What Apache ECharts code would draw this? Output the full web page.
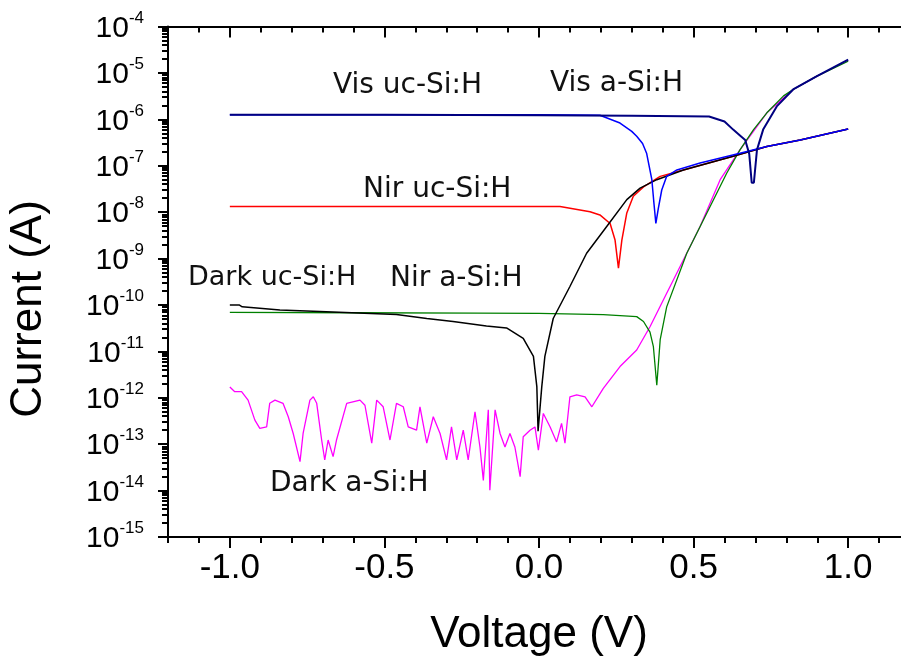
<!DOCTYPE html>
<html>
<head>
<meta charset="utf-8">
<script src="https://cdn.jsdelivr.net/npm/echarts@6/dist/echarts.min.js"></script>
<style>
  html, body { margin: 0; padding: 0; background: #fff; overflow: hidden; }
  /* plot runs past the right edge of the window, like the cropped original */
  #chart { width: 910px; height: 662px; }
</style>
</head>
<body>
<div id="chart"></div>
<script>
// ticks
var xMajorTicks = [-1.0, -0.5, 0.0, 0.5, 1.0];
var xMinorTicks = [-1.2, -1.1, -0.9, -0.8, -0.7, -0.6, -0.4, -0.3, -0.2, -0.1,
                   0.1, 0.2, 0.3, 0.4, 0.6, 0.7, 0.8, 0.9, 1.1, 1.2];
var yDecades = [1e-15, 1e-14, 1e-13, 1e-12, 1e-11, 1e-10, 1e-9, 1e-8, 1e-7, 1e-6, 1e-5, 1e-4];
// minor ticks of the log axis, given as exponents (drawn on a plain helper axis)
var yMinorExp = [];
for (var d = -15; d < -4; d++) {
  for (var k = 2; k <= 9; k++) yMinorExp.push(d + Math.log10(k));
}

// Vis uc-Si:H (blue)
var visUcV = [-1.0, -0.5, 0.0, 0.197, 0.262, 0.30, 0.316, 0.335, 0.348, 0.365, 0.372, 0.378, 0.386, 0.397, 0.413, 0.446, 0.521, 0.650, 0.737, 0.845, 1.0];
var visUcI = [1.25e-6, 1.25e-6, 1.25e-6, 1.22e-6, 8.3e-7, 5.5e-7, 4.3e-7, 3.0e-7, 1.86e-7, 5.0e-8, 1.5e-8, 5.7e-9, 1.2e-8, 3.0e-8, 5.9e-8, 8.1e-8, 1.15e-7, 1.86e-7, 2.6e-7, 3.6e-7, 6.2e-7];

// Vis a-Si:H (navy)
var visAV = [-1.0, -0.5, 0.0, 0.3, 0.55, 0.60, 0.628, 0.650, 0.667, 0.680, 0.688, 0.695, 0.705, 0.725, 0.769, 0.822, 0.899, 1.0];
var visAI = [1.25e-6, 1.25e-6, 1.22e-6, 1.2e-6, 1.15e-6, 9.0e-7, 6.0e-7, 4.5e-7, 3.6e-7, 1.8e-7, 4.3e-8, 4.3e-8, 2.2e-7, 6.0e-7, 1.9e-6, 4.4e-6, 8.5e-6, 1.94e-5];

// Nir uc-Si:H (red)
var nirUcV = [-1.0, 0.068, 0.165, 0.197, 0.230, 0.246, 0.257, 0.268, 0.284, 0.305, 0.338, 0.392, 0.467, 0.628, 0.737, 0.845, 1.0];
var nirUcI = [1.32e-8, 1.32e-8, 1.02e-8, 8.7e-9, 5.7e-9, 2.5e-9, 6.2e-10, 2.5e-9, 9.6e-9, 2.2e-8, 3.5e-8, 5.9e-8, 8.1e-8, 1.6e-7, 2.6e-7, 3.6e-7, 6.2e-7];

// Dark uc-Si:H (black)
var darkUcV = [-1.0, -0.97, -0.96, -0.838, -0.709, -0.461, -0.363, -0.278, -0.170, -0.105, -0.051, -0.018, -0.007, -0.003, 0.001, 0.009, 0.019, 0.046, 0.100, 0.154, 0.219, 0.284, 0.327, 0.381, 0.467, 0.628, 0.737, 0.845, 1.0];
var darkUcI = [1.0e-10, 1.0e-10, 9.1e-11, 7.8e-11, 7.2e-11, 6.2e-11, 5.1e-11, 4.4e-11, 3.5e-11, 3.2e-11, 1.9e-11, 7.8e-12, 1.74e-12, 1.9e-13, 1.9e-13, 1.74e-12, 7.8e-12, 5.1e-11, 2.5e-10, 1.3e-9, 4.9e-9, 1.86e-8, 3.3e-8, 5.0e-8, 8.1e-8, 1.6e-7, 2.6e-7, 3.6e-7, 6.2e-7];

// Nir a-Si:H (green)
var nirAV = [-1.0, -0.6, -0.2, 0.0, 0.208, 0.316, 0.338, 0.359, 0.370, 0.381, 0.392, 0.413, 0.478, 0.543, 0.607, 0.650, 0.694, 0.737, 0.791, 0.822, 0.899, 1.0];
var nirAI = [6.9e-11, 6.8e-11, 6.7e-11, 6.6e-11, 6.2e-11, 5.6e-11, 4.4e-11, 2.6e-11, 1.26e-11, 1.86e-12, 1.78e-11, 9.1e-11, 1.3e-9, 9.6e-9, 6.9e-8, 2.2e-7, 6.0e-7, 1.38e-6, 3.2e-6, 4.4e-6, 8.5e-6, 1.78e-5];

// Dark a-Si:H (magenta)
var darkAV = [-1.000, -0.984, -0.962, -0.941, -0.919, -0.903, -0.881, -0.871, -0.854, -0.828, -0.811, -0.795, -0.773, -0.763, -0.741, -0.730, -0.719, -0.703, -0.693, -0.682, -0.666, -0.655, -0.622, -0.579, -0.563, -0.541, -0.525, -0.504, -0.482, -0.461, -0.439, -0.423, -0.396, -0.385, -0.363, -0.342, -0.320, -0.299, -0.283, -0.266, -0.245, -0.229, -0.207, -0.191, -0.180, -0.164, -0.159, -0.142, -0.126, -0.110, -0.094, -0.078, -0.061, -0.051, -0.029, -0.013, -0.002, 0.014, 0.036, 0.057, 0.073, 0.084, 0.100, 0.122, 0.149, 0.171, 0.208, 0.262, 0.316, 0.359, 0.413, 0.435, 0.521, 0.586, 0.650, 0.737, 0.822, 0.899, 1.0];
var darkAI = [1.7e-12, 1.35e-12, 1.35e-12, 8.9e-13, 3.3e-13, 2.2e-13, 2.35e-13, 7.6e-13, 8.9e-13, 7.6e-13, 3.9e-13, 1.7e-13, 4.2e-14, 1.7e-13, 8.9e-13, 1.05e-12, 7.6e-13, 1.23e-13, 4.6e-14, 1.23e-13, 5.4e-14, 1.23e-13, 7.6e-13, 8.9e-13, 6.9e-13, 1.05e-13, 8.9e-13, 6.4e-13, 1.23e-13, 7.6e-13, 6.4e-13, 2.35e-13, 2.0e-13, 6.4e-13, 1.05e-13, 3.9e-13, 1.7e-13, 4.6e-14, 2.35e-13, 4.6e-14, 2.0e-13, 4.6e-14, 5.0e-13, 8.7e-14, 1.66e-14, 5.5e-13, 1.02e-14, 5.5e-13, 1.7e-13, 8.7e-14, 1.7e-13, 8.7e-14, 2.0e-14, 1.45e-13, 2.0e-13, 2.35e-13, 7.4e-14, 4.6e-13, 2.35e-13, 1.12e-13, 2.8e-13, 1.05e-13, 1.05e-12, 1.15e-12, 1.05e-12, 6.4e-13, 1.6e-12, 4.7e-12, 1.07e-11, 3.4e-11, 1.78e-10, 3.5e-10, 4.9e-9, 5.0e-8, 2.2e-7, 1.38e-6, 4.4e-6, 8.5e-6, 1.85e-5];

function pairs(v, i) {
  var out = [];
  for (var n = 0; n < v.length; n++) out.push([v[n], i[n]]);
  return out;
}

var dom = document.getElementById('chart');
var myChart = echarts.init(dom);

var baseFont = 'Liberation Sans, Arial, sans-serif';
var noteFont = 'DejaVu Sans, Verdana, sans-serif';
var plotBox = { left: 168, right: 0, top: 26.5, bottom: 125, containLabel: false };

function curve(name, v, i, color, width) {
  return {
    name: name,
    type: 'line',
    xAxisIndex: 0,
    yAxisIndex: 0,
    data: pairs(v, i),
    showSymbol: false,
    lineStyle: { color: color, width: width },
    itemStyle: { color: color },
    animation: false
  };
}

function xAxisPart(pos, ticks, len, inside, labels) {
  return {
    type: 'value',
    gridIndex: 0,
    position: pos,
    min: -1.2,
    max: 1.2,
    splitLine: { show: false },
    axisLine: { show: true, onZero: false, lineStyle: { color: '#000', width: 2 } },
    axisTick: { show: true, inside: inside, length: len, customValues: ticks, lineStyle: { color: '#000', width: 2 } },
    axisLabel: labels ? {
      show: true, customValues: ticks, margin: 14,
      fontSize: 35, fontFamily: baseFont, color: '#000',
      formatter: function (v) { return v.toFixed(1); }
    } : { show: false }
  };
}

var xMain = xAxisPart('bottom', xMajorTicks, 11, false, true);
xMain.name = 'Voltage (V)';
xMain.nameLocation = 'middle';
xMain.nameGap = 76;
xMain.nameTextStyle = { fontSize: 44, fontFamily: baseFont, color: '#000' };

var yMain = {
  type: 'log',
  gridIndex: 0,
  logBase: 10,
  position: 'left',
  min: 1e-15,
  max: 1e-4,
  splitLine: { show: false },
  axisLine: { show: true, onZero: false, lineStyle: { color: '#000', width: 2 } },
  axisTick: { show: true, inside: false, length: 10, customValues: yDecades, lineStyle: { color: '#000', width: 2 } },
  axisLabel: {
    show: true, customValues: yDecades, margin: 24,
    formatter: function (v) {
      var e = Math.round(Math.log10(v));
      return '{b|10}{s|' + e + '}';
    },
    rich: {
      b: { fontSize: 30, fontFamily: baseFont, color: '#000', lineHeight: 34, verticalAlign: 'bottom' },
      s: { fontSize: 17, fontFamily: baseFont, color: '#000', lineHeight: 34, verticalAlign: 'top' }
    }
  }
};

// second grid on top of the first one, only to carry the minor ticks between decades.
// its x range starts at 0, so the onZero placement puts the tick axis on the left spine
var xHelper = {
  type: 'value', gridIndex: 1, min: 0, max: 1, show: false
};
var yMinor = {
  type: 'value',
  gridIndex: 1,
  position: 'left',
  min: -15,
  max: -4,
  splitLine: { show: false },
  axisLine: { show: false },
  axisTick: { show: true, inside: false, length: 6, customValues: yMinorExp, lineStyle: { color: '#000', width: 2 } },
  axisLabel: { show: false }
};

var option = {
  backgroundColor: '#fff',
  animation: false,
  grid: [plotBox, Object.assign({}, plotBox)],
  xAxis: [
    xMain,
    xAxisPart('bottom', xMinorTicks, 6, false, false),
    xAxisPart('top', xMajorTicks, 11, true, false),
    xAxisPart('top', xMinorTicks, 6, true, false),
    xHelper
  ],
  yAxis: [yMain, yMinor],
  series: [
    curve('Dark a-Si:H', darkAV, darkAI, '#ff00ff', 1.3),
    curve('Nir a-Si:H', nirAV, nirAI, '#008000', 1.3),
    curve('Nir uc-Si:H', nirUcV, nirUcI, '#ff0000', 1.5),
    curve('Dark uc-Si:H', darkUcV, darkUcI, '#000000', 1.5),
    curve('Vis uc-Si:H', visUcV, visUcI, '#0000ff', 1.5),
    curve('Vis a-Si:H', visAV, visAI, '#000080', 2)
  ],
  graphic: [
    { type: 'text', x: 29, y: 309, rotation: Math.PI / 2,
      style: { text: 'Current (A)', fontSize: 44, fontFamily: baseFont, fill: '#000', align: 'center', verticalAlign: 'middle' } },
    { type: 'text', x: 333, y: 86, style: { text: 'Vis uc-Si:H', fontSize: 28, fontFamily: noteFont, fill: '#111', align: 'left', verticalAlign: 'middle' } },
    { type: 'text', x: 550, y: 84, style: { text: 'Vis a-Si:H', fontSize: 28, fontFamily: noteFont, fill: '#111', align: 'left', verticalAlign: 'middle' } },
    { type: 'text', x: 363, y: 190, style: { text: 'Nir uc-Si:H', fontSize: 28, fontFamily: noteFont, fill: '#111', align: 'left', verticalAlign: 'middle' } },
    { type: 'text', x: 188, y: 278, style: { text: 'Dark uc-Si:H', fontSize: 27, fontFamily: noteFont, fill: '#111', align: 'left', verticalAlign: 'middle' } },
    { type: 'text', x: 390, y: 279, style: { text: 'Nir a-Si:H', fontSize: 28, fontFamily: noteFont, fill: '#111', align: 'left', verticalAlign: 'middle' } },
    { type: 'text', x: 270, y: 484, style: { text: 'Dark a-Si:H', fontSize: 28, fontFamily: noteFont, fill: '#111', align: 'left', verticalAlign: 'middle' } }
  ]
};

myChart.setOption(option);
</script>
</body>
</html>
